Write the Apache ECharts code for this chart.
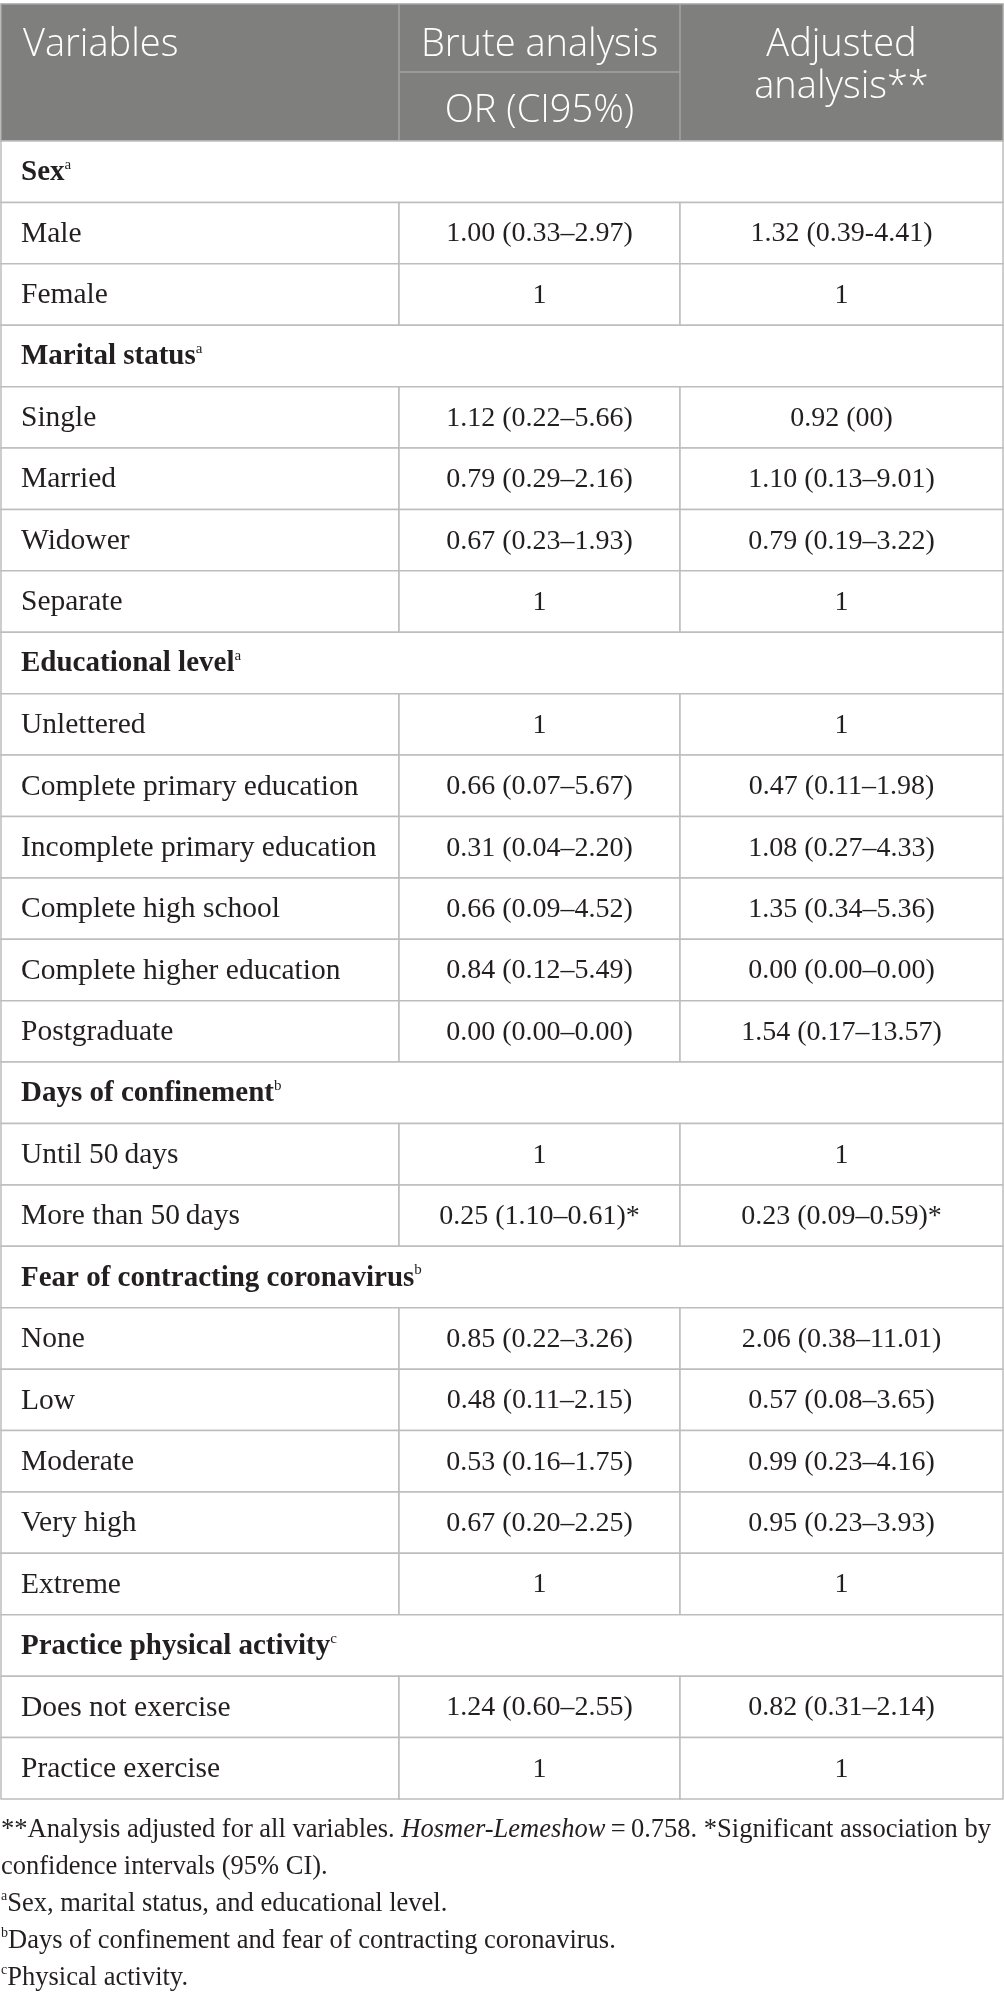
<!DOCTYPE html>
<html>
<head>
<meta charset="utf-8">
<script src="https://cdn.jsdelivr.net/npm/echarts@6/dist/echarts.min.js"></script>
<style>
html,body{margin:0;padding:0;background:#fff;}
#chart{width:1004px;height:2001px;}
</style>
</head>
<body>
<div id="chart"></div>
<script>
// ---------- DATA ----------
const headers = ['Variables', 'Brute analysis', 'OR (CI95%)', 'Adjusted', 'analysis**'];

const variables = [
  'Sex', 'Male', 'Female',
  'Marital status', 'Single', 'Married', 'Widower', 'Separate',
  'Educational level', 'Unlettered', 'Complete primary education', 'Incomplete primary education',
  'Complete high school', 'Complete higher education', 'Postgraduate',
  'Days of confinement', 'Until 50\u2009days', 'More than 50\u2009days',
  'Fear of contracting coronavirus', 'None', 'Low', 'Moderate', 'Very high', 'Extreme',
  'Practice physical activity', 'Does not exercise', 'Practice exercise'
];

const sections = ['Sex', 'Marital status', 'Educational level', 'Days of confinement',
  'Fear of contracting coronavirus', 'Practice physical activity'];
const sectionNotes = ['a', 'a', 'a', 'b', 'b', 'c'];

const bruteOR = [
  null, '1.00 (0.33–2.97)', '1',
  null, '1.12 (0.22–5.66)', '0.79 (0.29–2.16)', '0.67 (0.23–1.93)', '1',
  null, '1', '0.66 (0.07–5.67)', '0.31 (0.04–2.20)', '0.66 (0.09–4.52)', '0.84 (0.12–5.49)', '0.00 (0.00–0.00)',
  null, '1', '0.25 (1.10–0.61)*',
  null, '0.85 (0.22–3.26)', '0.48 (0.11–2.15)', '0.53 (0.16–1.75)', '0.67 (0.20–2.25)', '1',
  null, '1.24 (0.60–2.55)', '1'
];

const adjustedOR = [
  null, '1.32 (0.39-4.41)', '1',
  null, '0.92 (00)', '1.10 (0.13–9.01)', '0.79 (0.19–3.22)', '1',
  null, '1', '0.47 (0.11–1.98)', '1.08 (0.27–4.33)', '1.35 (0.34–5.36)', '0.00 (0.00–0.00)', '1.54 (0.17–13.57)',
  null, '1', '0.23 (0.09–0.59)*',
  null, '2.06 (0.38–11.01)', '0.57 (0.08–3.65)', '0.99 (0.23–4.16)', '0.95 (0.23–3.93)', '1',
  null, '0.82 (0.31–2.14)', '1'
];

const footnotes = [
  '**Analysis adjusted for all variables. {i|Hosmer-Lemeshow}\u2009=\u20090.758. *Significant association by',
  'confidence intervals (95% CI).',
  '{s|a}Sex, marital status, and educational level.',
  '{s|b}Days of confinement and fear of contracting coronavirus.',
  '{s|c}Physical activity.'
];

// ---------- LAYOUT / STYLE ----------
const COL_EDGES = [0, 398, 679, 1002];
const HEADER_UNITS = 137 / 61.41;
const SERIF = '"Liberation Serif", "Times New Roman", serif';
const SANS = '"Open Sans", "Noto Sans", sans-serif';
const TEXT = '#231f20';
const GRID_LINE = '#bdbdbd';
const HEADER_BG = '#7f807e';
const HEADER_LINE = '#a3a4a2';
const LABEL_SIZE = 29.5;
const NUM_SIZE = 28;

const chart = echarts.init(document.getElementById('chart'), null, {renderer: 'canvas'});

function bodyRender(params, api) {
  const i = api.value(1);
  const label = variables[i];
  const p0 = api.coord([COL_EDGES[0], i]);
  const p1 = api.coord([COL_EDGES[3], i + 1]);
  const top = p0[1], bottom = p1[1], h = bottom - top;
  const xs = COL_EDGES.map(e => api.coord([e, i])[0]);
  const mid = top + h / 2 + 1;
  const children = [];
  const sIdx = sections.indexOf(label);
  const lineStyle = {fill: '#fff', stroke: GRID_LINE, lineWidth: 1.5};
  if (sIdx >= 0) {
    children.push({type: 'rect', shape: {x: xs[0], y: top, width: xs[3] - xs[0], height: h}, style: lineStyle});
    children.push({
      type: 'text',
      style: {
        text: '{b|' + label + '}{s|' + sectionNotes[sIdx] + '}',
        x: xs[0] + 20, y: mid, align: 'left', verticalAlign: 'middle',
        rich: {
          b: {fontFamily: SERIF, fontSize: LABEL_SIZE - 0.5, fontWeight: 'bold', fill: TEXT, lineHeight: 30},
          s: {fontFamily: SERIF, fontSize: 15, fill: TEXT, verticalAlign: 'top', lineHeight: 30}
        }
      }
    });
  } else {
    for (let c = 0; c < 3; c++) {
      children.push({type: 'rect', shape: {x: xs[c], y: top, width: xs[c + 1] - xs[c], height: h}, style: lineStyle});
    }
    const common = {fontFamily: SERIF, fontSize: NUM_SIZE, fill: TEXT, verticalAlign: 'middle'};
    children.push({type: 'text', style: Object.assign({}, common, {text: label, x: xs[0] + 20, y: mid, align: 'left', fontSize: LABEL_SIZE})});
    children.push({type: 'text', style: Object.assign({text: bruteOR[i], x: (xs[1] + xs[2]) / 2, y: mid, align: 'center'}, common)});
    children.push({type: 'text', style: Object.assign({text: adjustedOR[i], x: (xs[2] + xs[3]) / 2, y: mid, align: 'center'}, common)});
  }
  return {type: 'group', children};
}

function headerRender(params, api) {
  const y0 = api.value(1);
  const p0 = api.coord([COL_EDGES[0], y0]);
  const p1 = api.coord([COL_EDGES[3], 0]);
  const top = p0[1], bottom = p1[1], h = bottom - top;
  const k = h / 137;
  const xs = COL_EDGES.map(e => api.coord([e, 0])[0]);
  const subY = top + 68 * k;
  const hs = {fontFamily: SANS, fontSize: 38, fontWeight: 300, fill: '#ffffff', verticalAlign: 'middle'};
  return {
    type: 'group',
    children: [
      {type: 'rect', shape: {x: xs[0], y: top, width: xs[3] - xs[0], height: h}, style: {fill: HEADER_BG, stroke: HEADER_LINE, lineWidth: 1.5}},
      {type: 'line', shape: {x1: xs[1], y1: top, x2: xs[1], y2: bottom}, style: {stroke: HEADER_LINE, lineWidth: 1.5}},
      {type: 'line', shape: {x1: xs[2], y1: top, x2: xs[2], y2: bottom}, style: {stroke: HEADER_LINE, lineWidth: 1.5}},
      {type: 'line', shape: {x1: xs[1], y1: subY, x2: xs[2], y2: subY}, style: {stroke: HEADER_LINE, lineWidth: 1.5}},
      {type: 'text', style: Object.assign({text: headers[0], x: xs[0] + 22, y: top + 41 * k, align: 'left'}, hs)},
      {type: 'text', style: Object.assign({text: headers[1], x: (xs[1] + xs[2]) / 2, y: top + 41 * k, align: 'center'}, hs)},
      {type: 'text', style: Object.assign({text: headers[2], x: (xs[1] + xs[2]) / 2, y: top + 107 * k, align: 'center'}, hs)},
      {type: 'text', style: Object.assign({text: headers[3], x: (xs[2] + xs[3]) / 2, y: top + 41 * k, align: 'center'}, hs)},
      {type: 'text', style: Object.assign({text: headers[4], x: (xs[2] + xs[3]) / 2, y: top + 83 * k, align: 'center'}, hs)}
    ]
  };
}

const footRich = {
  i: {fontFamily: SERIF, fontSize: 26.5, fontStyle: 'italic', fill: TEXT, lineHeight: 30},
  s: {fontFamily: SERIF, fontSize: 14, fill: TEXT, verticalAlign: 'top', lineHeight: 30}
};

const option = {
  animation: false,
  backgroundColor: '#ffffff',
  grid: {left: 1, right: 1, top: 4, bottom: 202, containLabel: false},
  xAxis: {type: 'value', min: COL_EDGES[0], max: COL_EDGES[3], show: false},
  yAxis: {type: 'value', inverse: true, min: -HEADER_UNITS, max: variables.length, show: false},
  series: [
    {
      type: 'custom',
      name: 'header',
      clip: false,
      silent: true,
      renderItem: headerRender,
      encode: {x: 0, y: 1},
      data: [[0, -HEADER_UNITS]]
    },
    {
      type: 'custom',
      name: 'rows',
      clip: false,
      silent: true,
      renderItem: bodyRender,
      encode: {x: 0, y: 1},
      data: variables.map((v, i) => [0, i])
    }
  ],
  graphic: footnotes.map((t, j) => ({
    type: 'text',
    left: 1,
    top: 1815 + j * 37,
    style: {
      text: t,
      fontFamily: SERIF,
      fontSize: 26.5,
      fill: TEXT,
      lineHeight: 30,
      rich: footRich
    }
  }))
};

chart.setOption(option);
</script>
</body>
</html>
